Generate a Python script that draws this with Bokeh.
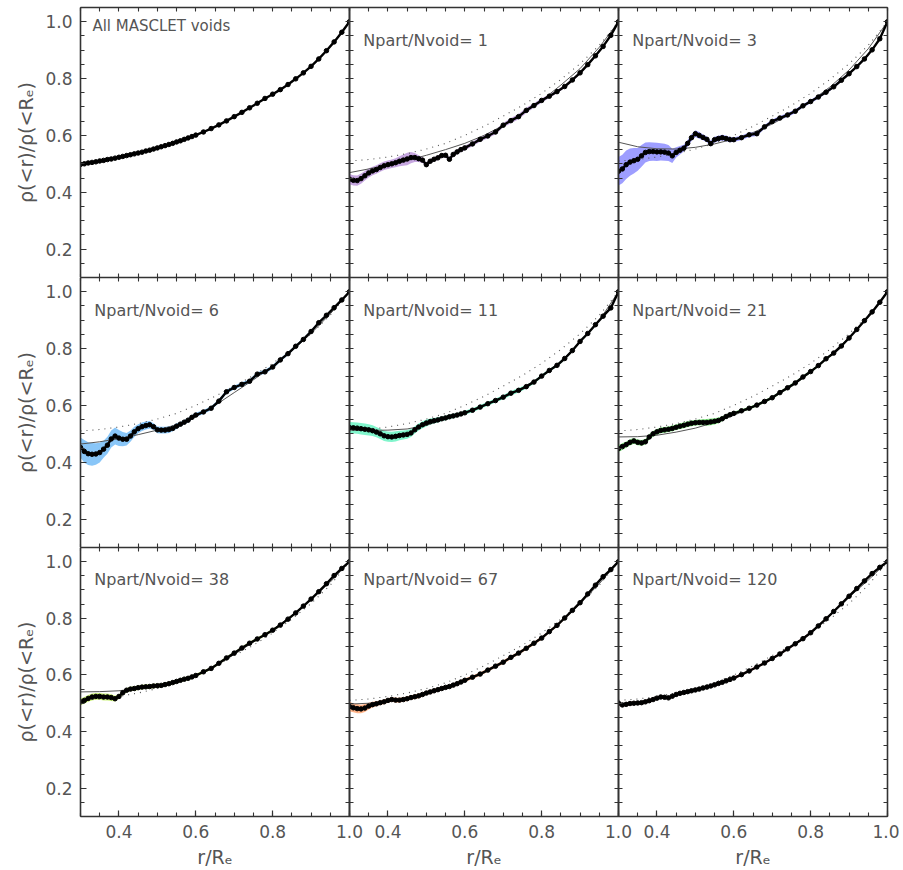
from bokeh.plotting import figure
from bokeh.layouts import row, column
from bokeh.models import Range1d, LinearAxis, FixedTicker, Label, NumeralTickFormatter
from bokeh.embed import file_html
from bokeh.resources import INLINE

# ---------------- data ----------------
X_GRID = [0.30, 0.31, 0.32, 0.33, 0.34, 0.35, 0.36, 0.37, 0.38, 0.39,
          0.40, 0.41, 0.42, 0.43, 0.44, 0.45, 0.46, 0.47, 0.48, 0.49,
          0.50, 0.51, 0.52, 0.53, 0.54, 0.55, 0.56, 0.57, 0.58, 0.59,
          0.60,
          0.62, 0.64, 0.66, 0.68, 0.70, 0.72, 0.74, 0.76, 0.78, 0.80,
          0.82, 0.84, 0.86, 0.88, 0.90, 0.92, 0.94, 0.96, 0.98, 1.00]

FIT_X = [0.30, 0.35, 0.40, 0.45, 0.50, 0.55, 0.60, 0.65, 0.70, 0.75, 0.80, 0.85, 0.90, 0.95, 1.00]

DOTTED = [0.510, 0.515, 0.524, 0.536, 0.552, 0.572, 0.600, 0.632, 0.668, 0.705, 0.748, 0.797, 0.852, 0.917, 1.000]

PANEL_LABELS = ["All MASCLET voids", "Npart/Nvoid= 1", "Npart/Nvoid= 3",
                "Npart/Nvoid= 6", "Npart/Nvoid= 11", "Npart/Nvoid= 21",
                "Npart/Nvoid= 38", "Npart/Nvoid= 67", "Npart/Nvoid= 120"]

BAND_COLORS = [None, "#a878d0", "#6a6aff", "#4aa8f5", "#3ef0b0", "#46e046", "#b4ec3c", "#ff8c4a", "#ff4040"]

Y_ALL = [0.498, 0.500, 0.503, 0.505, 0.507, 0.510, 0.512, 0.515, 0.517, 0.520,
         0.523, 0.526, 0.529, 0.532, 0.535, 0.538, 0.541, 0.545, 0.548, 0.552,
         0.556, 0.560, 0.564, 0.568, 0.572, 0.577, 0.581, 0.586, 0.591, 0.596,
         0.601,
         0.612, 0.624, 0.637, 0.651, 0.666, 0.681, 0.697, 0.713, 0.730, 0.745,
         0.761, 0.779, 0.799, 0.820, 0.843, 0.869, 0.898, 0.929, 0.963, 1.000]

Y_1 = [0.446, 0.442, 0.441, 0.448, 0.458, 0.468, 0.475, 0.480, 0.487, 0.493,
       0.497, 0.500, 0.504, 0.509, 0.513, 0.517, 0.522, 0.522, 0.518, 0.513,
       0.497, 0.509, 0.516, 0.521, 0.529, 0.530, 0.516, 0.533, 0.542, 0.550,
       0.556,
       0.570, 0.586, 0.598, 0.612, 0.636, 0.652, 0.666, 0.688, 0.705, 0.723,
       0.738, 0.754, 0.772, 0.795, 0.820, 0.849, 0.880, 0.913, 0.952, 1.000]
E_1 = [0.018, 0.018, 0.018, 0.018, 0.017, 0.016, 0.015, 0.015, 0.015, 0.015,
       0.015, 0.015, 0.016, 0.018, 0.020, 0.022, 0.020, 0.016, 0.012, 0.010,
       0.008, 0.008, 0.008, 0.008, 0.008, 0.008, 0.008, 0.008, 0.008, 0.008,
       0.008,
       0.008, 0.008, 0.008, 0.008, 0.008, 0.009, 0.009, 0.009, 0.008, 0.008,
       0.006, 0.006, 0.005, 0.005, 0.005, 0.004, 0.004, 0.003, 0.003, 0.000]

Y_3 = [0.474, 0.482, 0.497, 0.506, 0.511, 0.516, 0.528, 0.540, 0.543, 0.543,
       0.542, 0.542, 0.541, 0.538, 0.528, 0.540, 0.548, 0.555, 0.572, 0.592,
       0.606, 0.600, 0.593, 0.586, 0.571, 0.585, 0.589, 0.592, 0.589, 0.585,
       0.585,
       0.592, 0.602, 0.606, 0.630, 0.649, 0.661, 0.672, 0.685, 0.704, 0.719,
       0.735, 0.752, 0.771, 0.794, 0.817, 0.842, 0.869, 0.901, 0.940, 1.000]
E_3 = [0.050, 0.050, 0.050, 0.048, 0.045, 0.040, 0.038, 0.035, 0.033, 0.032,
       0.032, 0.030, 0.030, 0.028, 0.025, 0.018, 0.015, 0.012, 0.012, 0.012,
       0.012, 0.012, 0.010, 0.010, 0.010, 0.010, 0.010, 0.010, 0.010, 0.009,
       0.008,
       0.008, 0.008, 0.008, 0.007, 0.007, 0.007, 0.007, 0.007, 0.006, 0.006,
       0.006, 0.005, 0.005, 0.005, 0.004, 0.004, 0.004, 0.003, 0.003, 0.000]

Y_6 = [0.452, 0.438, 0.430, 0.428, 0.429, 0.434, 0.446, 0.460, 0.482, 0.492,
       0.485, 0.481, 0.481, 0.492, 0.507, 0.518, 0.525, 0.529, 0.532, 0.525,
       0.514, 0.513, 0.513, 0.515, 0.519, 0.527, 0.534, 0.541, 0.548, 0.558,
       0.566,
       0.577, 0.590, 0.615, 0.648, 0.663, 0.674, 0.685, 0.710, 0.718, 0.735,
       0.760, 0.782, 0.808, 0.832, 0.860, 0.891, 0.917, 0.944, 0.971, 1.000]
E_6 = [0.035, 0.040, 0.040, 0.040, 0.038, 0.035, 0.030, 0.030, 0.030, 0.030,
       0.028, 0.025, 0.022, 0.020, 0.018, 0.016, 0.015, 0.014, 0.013, 0.012,
       0.012, 0.012, 0.012, 0.012, 0.010, 0.010, 0.008, 0.008, 0.008, 0.008,
       0.008,
       0.007, 0.007, 0.007, 0.007, 0.007, 0.007, 0.007, 0.007, 0.007, 0.007,
       0.006, 0.006, 0.005, 0.005, 0.005, 0.004, 0.004, 0.003, 0.003, 0.000]

Y_11 = [0.522, 0.521, 0.520, 0.518, 0.516, 0.514, 0.511, 0.506, 0.500, 0.493,
        0.490, 0.489, 0.491, 0.494, 0.496, 0.498, 0.503, 0.514, 0.524, 0.532,
        0.538, 0.543, 0.546, 0.549, 0.553, 0.556, 0.560, 0.563, 0.566, 0.570,
        0.574,
        0.583, 0.594, 0.606, 0.617, 0.629, 0.643, 0.653, 0.666, 0.682, 0.703,
        0.723, 0.741, 0.765, 0.793, 0.825, 0.853, 0.884, 0.914, 0.943, 1.000]
E_11 = [0.020, 0.020, 0.020, 0.020, 0.020, 0.020, 0.019, 0.018, 0.018, 0.018,
        0.018, 0.018, 0.018, 0.017, 0.016, 0.015, 0.014, 0.013, 0.012, 0.012,
        0.012, 0.011, 0.010, 0.009, 0.008, 0.008, 0.008, 0.008, 0.007, 0.007,
        0.007,
        0.007, 0.007, 0.007, 0.007, 0.007, 0.008, 0.008, 0.007, 0.006, 0.006,
        0.005, 0.005, 0.005, 0.004, 0.004, 0.004, 0.003, 0.003, 0.003, 0.000]

Y_21 = [0.448, 0.455, 0.462, 0.470, 0.475, 0.470, 0.468, 0.472, 0.489, 0.500,
        0.507, 0.512, 0.514, 0.516, 0.519, 0.523, 0.527, 0.530, 0.534, 0.537,
        0.539, 0.540, 0.540, 0.540, 0.542, 0.544, 0.547, 0.553, 0.561, 0.567,
        0.572,
        0.581, 0.590, 0.601, 0.614, 0.627, 0.645, 0.662, 0.679, 0.700, 0.719,
        0.740, 0.764, 0.784, 0.809, 0.837, 0.867, 0.898, 0.929, 0.963, 1.000]
E_21 = [0.012, 0.012, 0.011, 0.011, 0.010, 0.010, 0.010, 0.010, 0.010, 0.010,
        0.010, 0.010, 0.010, 0.010, 0.010, 0.010, 0.010, 0.010, 0.010, 0.010,
        0.010, 0.010, 0.011, 0.012, 0.012, 0.011, 0.010, 0.009, 0.008, 0.007,
        0.006,
        0.005, 0.005, 0.005, 0.005, 0.005, 0.005, 0.005, 0.005, 0.005, 0.005,
        0.004, 0.004, 0.004, 0.004, 0.003, 0.003, 0.003, 0.002, 0.002, 0.000]

Y_38 = [0.505, 0.510, 0.517, 0.522, 0.524, 0.524, 0.522, 0.522, 0.520, 0.516,
        0.524, 0.537, 0.546, 0.550, 0.552, 0.555, 0.557, 0.558, 0.559, 0.561,
        0.562, 0.563, 0.566, 0.569, 0.573, 0.577, 0.581, 0.585, 0.588, 0.593,
        0.598,
        0.611, 0.623, 0.641, 0.660, 0.677, 0.695, 0.712, 0.727, 0.742, 0.758,
        0.776, 0.797, 0.819, 0.843, 0.868, 0.894, 0.922, 0.951, 0.976, 1.000]
E_38 = [0.012, 0.012, 0.012, 0.012, 0.012, 0.012, 0.012, 0.012, 0.012, 0.010,
        0.008, 0.008, 0.008, 0.008, 0.008, 0.008, 0.008, 0.008, 0.008, 0.008,
        0.007, 0.007, 0.007, 0.007, 0.007, 0.007, 0.007, 0.007, 0.007, 0.007,
        0.006,
        0.005, 0.005, 0.005, 0.005, 0.005, 0.005, 0.005, 0.005, 0.005, 0.005,
        0.004, 0.004, 0.004, 0.003, 0.003, 0.003, 0.003, 0.002, 0.002, 0.000]

Y_67 = [0.488, 0.484, 0.481, 0.480, 0.483, 0.490, 0.495, 0.498, 0.502, 0.505,
        0.510, 0.513, 0.511, 0.511, 0.513, 0.516, 0.520, 0.523, 0.526, 0.531,
        0.536, 0.540, 0.544, 0.548, 0.552, 0.556, 0.559, 0.564, 0.569, 0.575,
        0.581,
        0.592, 0.603, 0.617, 0.631, 0.645, 0.662, 0.677, 0.694, 0.712, 0.730,
        0.753, 0.775, 0.801, 0.828, 0.855, 0.886, 0.917, 0.947, 0.972, 1.000]
E_67 = [0.016, 0.016, 0.016, 0.015, 0.014, 0.012, 0.010, 0.009, 0.008, 0.008,
        0.008, 0.008, 0.008, 0.008, 0.008, 0.008, 0.008, 0.008, 0.008, 0.008,
        0.007, 0.007, 0.007, 0.007, 0.007, 0.007, 0.007, 0.007, 0.007, 0.007,
        0.006,
        0.006, 0.006, 0.006, 0.006, 0.006, 0.006, 0.006, 0.006, 0.006, 0.006,
        0.005, 0.005, 0.004, 0.004, 0.004, 0.003, 0.003, 0.002, 0.002, 0.000]

Y_120 = [0.500, 0.494, 0.496, 0.499, 0.500, 0.501, 0.502, 0.505, 0.509, 0.513,
         0.518, 0.522, 0.521, 0.519, 0.525, 0.531, 0.535, 0.538, 0.541, 0.544,
         0.547, 0.550, 0.554, 0.557, 0.561, 0.565, 0.570, 0.574, 0.579, 0.584,
         0.589,
         0.601, 0.614, 0.628, 0.642, 0.658, 0.674, 0.692, 0.710, 0.728, 0.749,
         0.773, 0.798, 0.824, 0.851, 0.878, 0.905, 0.932, 0.958, 0.980, 1.000]
E_120 = [0.006, 0.006, 0.006, 0.006, 0.006, 0.006, 0.006, 0.006, 0.006, 0.006,
         0.005, 0.005, 0.005, 0.005, 0.005, 0.005, 0.005, 0.005, 0.005, 0.005,
         0.005, 0.005, 0.005, 0.005, 0.005, 0.005, 0.005, 0.005, 0.005, 0.005,
         0.005,
         0.004, 0.004, 0.004, 0.004, 0.004, 0.004, 0.004, 0.004, 0.004, 0.004,
         0.003, 0.003, 0.003, 0.003, 0.003, 0.003, 0.003, 0.003, 0.003, 0.000]

FIT_1 = [0.469, 0.482, 0.496, 0.512, 0.530, 0.550, 0.572, 0.600, 0.635, 0.677, 0.723, 0.777, 0.835, 0.910, 1.000]
FIT_3 = [0.576, 0.560, 0.553, 0.552, 0.558, 0.570, 0.587, 0.610, 0.640, 0.677, 0.720, 0.770, 0.830, 0.905, 1.000]
FIT_6 = [0.464, 0.472, 0.483, 0.497, 0.513, 0.532, 0.560, 0.600, 0.645, 0.690, 0.738, 0.792, 0.853, 0.922, 1.000]
FIT_11 = [0.513, 0.512, 0.513, 0.517, 0.530, 0.552, 0.575, 0.600, 0.630, 0.662, 0.703, 0.754, 0.823, 0.899, 1.000]
FIT_21 = [0.489, 0.490, 0.495, 0.506, 0.520, 0.540, 0.565, 0.594, 0.626, 0.666, 0.716, 0.776, 0.838, 0.912, 1.000]
FIT_38 = [0.540, 0.541, 0.544, 0.552, 0.563, 0.577, 0.598, 0.632, 0.672, 0.716, 0.760, 0.810, 0.866, 0.928, 1.000]
FIT_67 = [0.497, 0.500, 0.507, 0.517, 0.533, 0.554, 0.580, 0.610, 0.645, 0.686, 0.733, 0.787, 0.852, 0.922, 1.000]
FIT_120 = [0.497, 0.503, 0.514, 0.528, 0.546, 0.566, 0.590, 0.620, 0.656, 0.700, 0.750, 0.808, 0.874, 0.935, 1.000]

SERIES = [Y_ALL, Y_1, Y_3, Y_6, Y_11, Y_21, Y_38, Y_67, Y_120]
ERRORS = [None, E_1, E_3, E_6, E_11, E_21, E_38, E_67, E_120]
FITS = [None, FIT_1, FIT_3, FIT_6, FIT_11, FIT_21, FIT_38, FIT_67, FIT_120]

X_MAJOR = [0.4, 0.6, 0.8, 1.0]
X_MINOR = [0.30, 0.35, 0.40, 0.45, 0.50, 0.55, 0.60, 0.65, 0.70, 0.75, 0.80, 0.85, 0.90, 0.95, 1.00]
Y_MAJOR = [0.2, 0.4, 0.6, 0.8, 1.0]
Y_MINOR = [0.10, 0.15, 0.20, 0.25, 0.30, 0.35, 0.40, 0.45, 0.50, 0.55, 0.60, 0.65,
           0.70, 0.75, 0.80, 0.85, 0.90, 0.95, 1.00, 1.05]

FONT = "DejaVu Sans"
TXT = "#555555"
LINE = "#333333"


def make_axis(ticks, minor, labels, axis_label=None):
    # unlabeled sides: every tick is drawn as a minor tick, so no empty labels are made
    if labels:
        ax = LinearAxis(ticker=FixedTicker(ticks=ticks, minor_ticks=minor))
        ax.formatter = NumeralTickFormatter(format="0.0")
        ax.major_label_text_font = FONT
        ax.major_label_text_font_size = "17px"
        ax.major_label_text_color = TXT
        ax.major_label_standoff = 8
    else:
        ax = LinearAxis(ticker=FixedTicker(ticks=[], minor_ticks=minor))
        ax.major_label_standoff = 0
    ax.axis_line_color = LINE
    ax.axis_line_width = 1.6
    ax.major_tick_line_color = LINE
    ax.major_tick_line_width = 1.2
    ax.major_tick_in = 6
    ax.major_tick_out = 0
    ax.minor_tick_line_color = LINE
    ax.minor_tick_line_width = 1.1
    ax.minor_tick_in = 4
    ax.minor_tick_out = 0
    if axis_label:
        ax.axis_label = axis_label
        ax.axis_label_text_font = FONT
        ax.axis_label_text_font_size = "19px"
        ax.axis_label_text_font_style = "normal"
        ax.axis_label_text_color = TXT
        ax.axis_label_standoff = 5
    return ax


rows = []
for r in range(3):
    figs = []
    for c in range(3):
        i = r * 3 + c
        p = figure(frame_width=269, frame_height=270 if r < 2 else 269,
                   x_range=Range1d(0.3, 1.0), y_range=Range1d(0.1, 1.05),
                   x_axis_type=None, y_axis_type=None,
                   output_backend="svg", toolbar_location=None,
                   min_border_left=80 if c == 0 else 14,
                   min_border_right=14 if c < 2 else 12,
                   min_border_top=7 if r == 0 else 0,
                   min_border_bottom=50 if r == 2 else 0,
                   margin=(0, 0, 0, 0) if c == 0 else (0, 0, 0, -28))
        p.outline_line_color = None
        p.background_fill_color = None
        p.border_fill_color = None

        p.add_layout(make_axis(X_MAJOR, X_MINOR, r == 2, "r/Rₑ" if r == 2 else None), "below")
        p.add_layout(make_axis(X_MAJOR, X_MINOR, False), "above")
        p.add_layout(make_axis(Y_MAJOR, Y_MINOR, c == 0, "ρ(<r)/ρ(<Rₑ)" if c == 0 else None), "left")
        p.add_layout(make_axis(Y_MAJOR, Y_MINOR, False), "right")

        ys = SERIES[i]
        if ERRORS[i] is not None:
            lo = [y - e for y, e in zip(ys, ERRORS[i])]
            hi = [y + e for y, e in zip(ys, ERRORS[i])]
            p.varea(x=X_GRID, y1=lo, y2=hi, fill_color=BAND_COLORS[i], fill_alpha=0.65)
        if FITS[i] is not None:
            p.line(FIT_X, DOTTED, line_color="#555555", line_width=1.1, line_dash="1 5")
            p.line(FIT_X, FITS[i], line_color="#555555", line_width=1.0)
        p.line(X_GRID, ys, line_color="black", line_width=2.4)
        p.scatter(X_GRID, ys, size=4.5, marker="circle", fill_color="black", line_color="black")

        if i == 0:
            lab = Label(x=0.331, y=0.952, text=PANEL_LABELS[i], text_font=FONT,
                        text_font_size="15px", text_color=TXT)
        else:
            lab = Label(x=0.336, y=0.902, text=PANEL_LABELS[i], text_font=FONT,
                        text_font_size="16px", text_color=TXT)
        p.add_layout(lab)
        figs.append(p)
    rows.append(row(*figs))

layout = column(*rows)
open("out.html", "w").write(file_html(layout, INLINE))
